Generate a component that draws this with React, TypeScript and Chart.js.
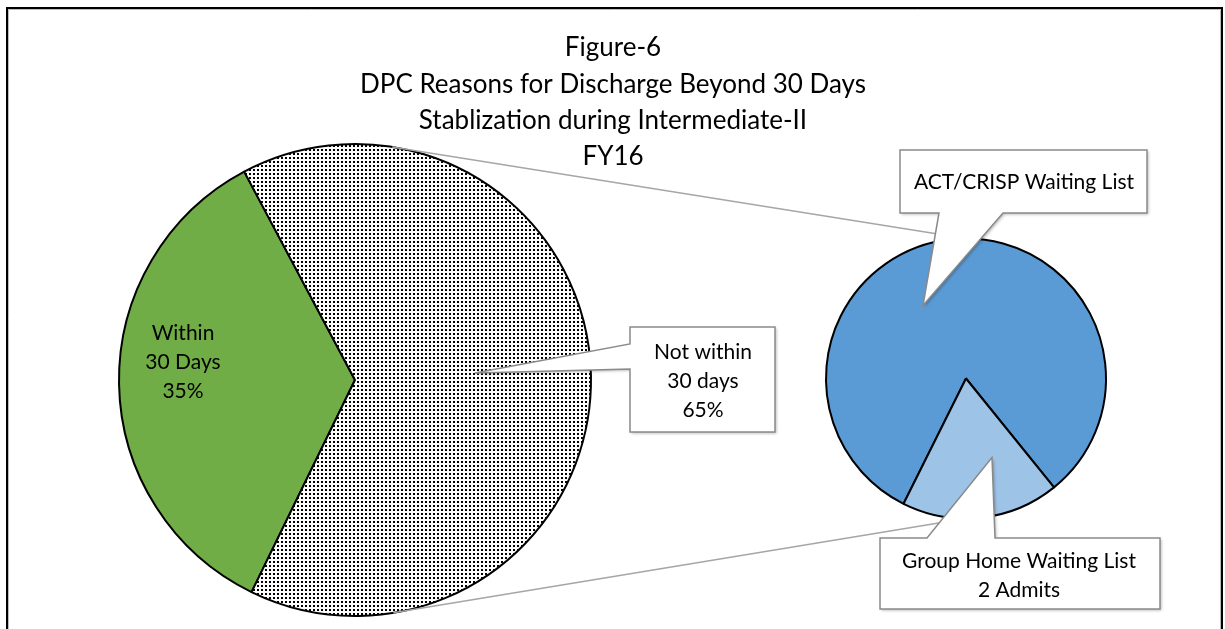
import { useEffect, useRef } from "react";
import { Chart, registerables } from "chart.js";

Chart.register(...registerables);

// Chart text
const titleLines = [
  "Figure-6",
  "DPC Reasons for Discharge Beyond 30 Days",
  "Stablization during Intermediate-II",
  "FY16",
];

// Primary pie: share of discharges (percent)
const mainCategories = ["Within 30 Days", "Not within 30 days"];
const mainPercent = [35, 65];
const mainLabelLines = [
  ["Within", "30 Days"],
  ["Not within", "30 days"],
];

// Secondary pie: breakdown of the "Not within 30 days" slice (admits)
const splitCategories = ["ACT/CRISP Waiting List", "Group Home Waiting List"];
const splitAdmits = [9, 2];

const W = 1225;
const H = 629;
const FONT = "Lato, 'Open Sans', sans-serif";
const BORDER = 2;
const LABEL_SIZE = 21;

function makeDotPattern(): CanvasPattern | string {
  const tile = document.createElement("canvas");
  tile.width = 4;
  tile.height = 4;
  const c = tile.getContext("2d");
  if (!c) return "#ddd";
  c.fillStyle = "#ffffff";
  c.fillRect(0, 0, 4, 4);
  c.fillStyle = "#000000";
  c.fillRect(1, 1, 2, 2);
  const p = c.createPattern(tile, "repeat");
  return p || "#ddd";
}

function padAround(cx: number, cy: number, r: number) {
  const h = r + BORDER / 2;
  return { left: cx - h, top: cy - h, right: W - (cx + h), bottom: H - (cy + h) };
}

// tangent point on circle (cx,cy,r) seen from external point (px,py); side = -1 upper, +1 lower
function tangentPoint(cx: number, cy: number, r: number, px: number, py: number, side: number) {
  const dx = px - cx;
  const dy = py - cy;
  const d = Math.hypot(dx, dy);
  const base = Math.atan2(dy, dx);
  const a = Math.acos(Math.min(1, r / d));
  const ang = base + side * a;
  return { x: cx + r * Math.cos(ang), y: cy + r * Math.sin(ang) };
}

type Pt = [number, number];

function drawCallout(ctx: CanvasRenderingContext2D, pts: Pt[], lines: string[], cx: number, firstY: number, lh: number) {
  ctx.save();
  ctx.beginPath();
  pts.forEach(([x, y], i) => (i === 0 ? ctx.moveTo(x, y) : ctx.lineTo(x, y)));
  ctx.closePath();
  ctx.shadowColor = "rgba(0,0,0,0.28)";
  ctx.shadowBlur = 3;
  ctx.shadowOffsetX = 1.5;
  ctx.shadowOffsetY = 1.5;
  ctx.fillStyle = "#ffffff";
  ctx.fill();
  ctx.shadowColor = "transparent";
  ctx.lineWidth = 1.5;
  ctx.strokeStyle = "#8a8a8a";
  ctx.stroke();
  ctx.fillStyle = "#000000";
  ctx.font = `${LABEL_SIZE}px ${FONT}`;
  ctx.textAlign = "center";
  ctx.textBaseline = "middle";
  lines.forEach((t, i) => ctx.fillText(t, cx, firstY + i * lh));
  ctx.restore();
}

export default function App() {
  const mainRef = useRef<HTMLCanvasElement>(null);
  const splitRef = useRef<HTMLCanvasElement>(null);

  useEffect(() => {
    if (!mainRef.current || !splitRef.current) return;
    const dots = makeDotPattern();

    const mainChart = new Chart(mainRef.current, {
      type: "pie",
      data: {
        labels: mainCategories,
        datasets: [
          {
            data: mainPercent,
            backgroundColor: ["#70AD47", dots as any],
            borderColor: "#000000",
            borderWidth: BORDER,
          },
        ],
      },
      options: {
        responsive: false,
        animation: false,
        devicePixelRatio: 1,
        events: [],
        rotation: 206,
        layout: { padding: padAround(355, 380, 236) },
        plugins: { legend: { display: false }, tooltip: { enabled: false }, title: { display: false } },
      },
    });

    const overlay = {
      id: "pieOfPieOverlay",
      afterDraw(chart: any) {
        const ctx: CanvasRenderingContext2D = chart.ctx;
        const m = mainChart.getDatasetMeta(0).data as any[];
        const s = chart.getDatasetMeta(0).data as any[];
        const mc = { x: m[0].x, y: m[0].y, r: m[0].outerRadius };
        const sc = { x: s[0].x, y: s[0].y, r: s[0].outerRadius };

        ctx.save();
        // frame
        ctx.strokeStyle = "#000000";
        ctx.lineWidth = 2;
        ctx.beginPath();
        ctx.moveTo(7, H + 2);
        ctx.lineTo(7, 8);
        ctx.lineTo(1222, 8);
        ctx.lineTo(1222, H + 2);
        ctx.stroke();
        ctx.strokeStyle = "#bdbdbd";
        ctx.lineWidth = 1;
        ctx.beginPath();
        ctx.moveTo(8.5, H + 2);
        ctx.lineTo(8.5, 9.5);
        ctx.lineTo(1220.5, 9.5);
        ctx.lineTo(1220.5, H + 2);
        ctx.stroke();

        // title
        ctx.fillStyle = "#000000";
        ctx.font = `26px ${FONT}`;
        ctx.textAlign = "center";
        ctx.textBaseline = "middle";
        titleLines.forEach((t, i) => ctx.fillText(t, 613, 48 + i * 36.3));

        // series lines joining the two pies
        const topP = { x: sc.x, y: sc.y - sc.r };
        const botP = { x: sc.x, y: sc.y + sc.r };
        const t1 = tangentPoint(mc.x, mc.y, mc.r, topP.x, topP.y, -1);
        const t2 = tangentPoint(mc.x, mc.y, mc.r, botP.x, botP.y, 1);
        ctx.strokeStyle = "#a6a6a6";
        ctx.lineWidth = 1.5;
        ctx.beginPath();
        ctx.moveTo(t1.x, t1.y);
        ctx.lineTo(topP.x, topP.y);
        ctx.moveTo(t2.x, t2.y);
        ctx.lineTo(botP.x, botP.y);
        ctx.stroke();

        // inside label of the green slice
        ctx.font = `${LABEL_SIZE}px ${FONT}`;
        const within = mainLabelLines[0].concat([`${mainPercent[0]}%`]);
        within.forEach((t, i) => ctx.fillText(t, mc.x - 172, mc.y - 47 + i * 29));
        ctx.restore();

        // callouts
        const notTip = m[1].getCenterPoint();
        drawCallout(
          ctx,
          [[630, 327], [775, 327], [775, 432], [630, 432], [630, 369], [notTip.x + 2, notTip.y - 5], [630, 344]],
          mainLabelLines[1].concat([`${mainPercent[1]}%`]),
          703, 352, 29
        );
        const actTip: Pt = [sc.x - 43, sc.y - 73];
        drawCallout(
          ctx,
          [[900, 150], [1147, 150], [1147, 213], [1003, 213], actTip, [939, 213], [900, 213]],
          [splitCategories[0]],
          1024, 182, 29
        );
        const ghTip: Pt = [sc.x + 26, sc.y + 79];
        drawCallout(
          ctx,
          [[880, 538], [927, 538], ghTip, [995, 538], [1160, 538], [1160, 609], [880, 609]],
          [splitCategories[1], `${splitAdmits[1]} Admits`],
          1019, 561, 29
        );
      },
    };

    const splitChart = new Chart(splitRef.current, {
      type: "pie",
      data: {
        labels: splitCategories,
        datasets: [
          {
            data: splitAdmits,
            backgroundColor: ["#5B9BD5", "#9DC3E6"],
            borderColor: "#000000",
            borderWidth: BORDER,
          },
        ],
      },
      options: {
        responsive: false,
        animation: false,
        devicePixelRatio: 1,
        events: [],
        rotation: 206.5,
        layout: { padding: padAround(966, 378.5, 140) },
        plugins: { legend: { display: false }, tooltip: { enabled: false }, title: { display: false } },
      },
      plugins: [overlay],
    });

    return () => {
      splitChart.destroy();
      mainChart.destroy();
    };
  }, []);

  const layer: React.CSSProperties = { position: "absolute", left: 0, top: 0, width: W, height: H };
  return (
    <div style={{ position: "fixed", left: 0, top: 0, width: W, height: H, background: "#ffffff" }}>
      <canvas ref={mainRef} width={W} height={H} style={layer} />
      <canvas ref={splitRef} width={W} height={H} style={layer} />
    </div>
  );
}
